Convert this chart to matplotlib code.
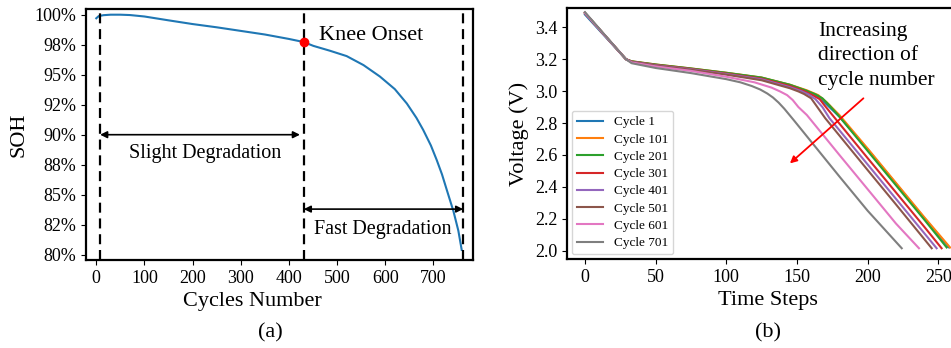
import matplotlib.pyplot as plt

plt.rcParams['font.family'] = ['Liberation Serif', 'DejaVu Serif']
plt.rcParams['mathtext.fontset'] = 'stix'

# panel (a): state of health over cycles
cycles = [0, 5, 15, 30, 50, 70, 100, 150, 200, 250, 300, 350, 400, 431, 451,
          485, 520, 555, 589, 620, 645, 665, 679, 695, 707, 718, 728, 742, 752, 759]
soh = [99.7, 99.88, 99.96, 100.0, 100.0, 99.97, 99.85, 99.53, 99.22, 98.95, 98.65,
       98.35, 97.98, 97.72, 97.4, 97.0, 96.55, 95.8, 94.85, 93.8, 92.6, 91.4,
       90.4, 89.1, 87.9, 86.7, 85.4, 83.6, 82.0, 80.4]
knee_cycle, knee_soh = 431, 97.72
start_cycle, end_cycle = 8, 762
soh_ticks = [80, 82.5, 85, 87.5, 90, 92.5, 95, 97.5, 100]

# panel (b): discharge voltage curves
t_c1 = [0, 29, 33, 50, 75, 100, 125, 145, 157, 164, 170, 180, 200, 220, 240, 257.6]
v_c1 = [3.48, 3.20, 3.185, 3.165, 3.14, 3.113, 3.083, 3.038, 3.0, 2.97, 2.925,
        2.84, 2.635, 2.42, 2.205, 2.02]
t_c101 = [0, 29, 33, 50, 75, 100, 125, 145, 157, 165, 171, 180, 200, 220, 240, 258.3]
v_c101 = [3.49, 3.20, 3.187, 3.167, 3.142, 3.115, 3.085, 3.04, 3.005, 2.975, 2.93,
          2.85, 2.64, 2.425, 2.21, 2.02]
t_c201 = [0, 29, 33, 50, 75, 100, 125, 145, 156, 163, 168, 173, 180, 200, 220, 240, 255.9]
v_c201 = [3.49, 3.20, 3.187, 3.167, 3.142, 3.115, 3.085, 3.04, 3.005, 2.98, 2.955,
          2.91, 2.84, 2.625, 2.41, 2.195, 2.02]
t_c301 = [0, 29, 33, 50, 75, 100, 125, 145, 155, 161, 166, 170, 176, 200, 220, 240, 252.3]
v_c301 = [3.49, 3.20, 3.185, 3.164, 3.139, 3.11, 3.078, 3.032, 3.0, 2.975, 2.95,
          2.905, 2.84, 2.58, 2.365, 2.15, 2.015]
t_c401 = [0, 29, 33, 50, 75, 100, 125, 145, 153, 158, 163, 168, 173, 200, 220, 248.8]
v_c401 = [3.49, 3.20, 3.184, 3.162, 3.137, 3.107, 3.074, 3.025, 3.0, 2.98, 2.95,
          2.9, 2.83, 2.54, 2.325, 2.015]
t_c501 = [0, 29, 33, 50, 75, 100, 125, 145, 151, 155, 160, 164, 170, 200, 220, 245.3]
v_c501 = [3.49, 3.20, 3.183, 3.16, 3.134, 3.103, 3.068, 3.018, 2.998, 2.982, 2.955,
          2.905, 2.83, 2.505, 2.29, 2.015]
t_c601 = [0, 29, 33, 50, 75, 100, 120, 132, 138, 143, 147, 151, 157, 180, 200, 220, 236.3]
v_c601 = [3.49, 3.20, 3.18, 3.155, 3.127, 3.09, 3.055, 3.022, 2.998, 2.975, 2.944,
          2.9, 2.85, 2.6, 2.385, 2.17, 2.015]
t_c701 = [0, 29, 33, 50, 75, 100, 110, 118, 124, 129, 133, 137, 141, 148, 164, 180, 200, 224.1]
v_c701 = [3.495, 3.20, 3.175, 3.145, 3.113, 3.075, 3.055, 3.032, 3.01, 2.985, 2.96,
          2.928, 2.89, 2.815, 2.64, 2.465, 2.25, 2.015]
curve_t = [t_c1, t_c101, t_c201, t_c301, t_c401, t_c501, t_c601, t_c701]
curve_v = [v_c1, v_c101, v_c201, v_c301, v_c401, v_c501, v_c601, v_c701]
curve_labels = ['Cycle 1', 'Cycle 101', 'Cycle 201', 'Cycle 301',
                'Cycle 401', 'Cycle 501', 'Cycle 601', 'Cycle 701']
colors = ['#1f77b4', '#ff7f0e', '#2ca02c', '#d62728',
          '#9467bd', '#8c564b', '#e377c2', '#7f7f7f']

fig = plt.figure(figsize=(9.51, 3.48), dpi=100)
ax1 = fig.add_axes([0.0901, 0.2529, 0.4073, 0.7204])
ax2 = fig.add_axes([0.5962, 0.2557, 0.4217, 0.7213])

# ---- (a)
ax1.plot(cycles, soh, color='#1f77b4', lw=1.5)
for xv in [start_cycle, knee_cycle, end_cycle]:
    ax1.axvline(xv, color='black', ls=(0, (4.5, 2.6)), lw=1.6)
ax1.plot(knee_cycle, knee_soh, 'o', color='red', ms=6, zorder=5)
ax1.annotate('', xy=(423, 90), xytext=(start_cycle, 90),
             arrowprops=dict(arrowstyle='<|-|>', color='black', lw=1.2,
                             mutation_scale=10, shrinkA=0, shrinkB=0))
ax1.annotate('', xy=(end_cycle, 83.8), xytext=(knee_cycle, 83.8),
             arrowprops=dict(arrowstyle='<|-|>', color='black', lw=1.2,
                             mutation_scale=10, shrinkA=0, shrinkB=0))
ax1.text(226, 88.45, 'Slight Degradation', ha='center', va='center', fontsize=14.5)
ax1.text(596, 82.1, 'Fast Degradation', ha='center', va='center', fontsize=14.5)
ax1.text(463, 98.3, 'Knee Onset', ha='left', va='center', fontsize=16)

ax1.set_xlim(-22, 782.5)
ax1.set_ylim(79.56, 100.45)
ax1.set_xticks(range(0, 800, 100))
ax1.set_yticks(soh_ticks)
ax1.set_yticklabels([f'{round(v)}%' for v in soh_ticks])
ax1.set_xlabel('Cycles Number', fontsize=16)
ax1.xaxis.label.set_x(0.43)
ax1.set_ylabel('SOH', fontsize=16)

# ---- (b)
for t, v, lab, c in zip(curve_t, curve_v, curve_labels, colors):
    ax2.plot(t, v, color=c, lw=1.5, label=lab)
ax2.annotate('', xy=(145, 2.547), xytext=(197, 2.955),
             arrowprops=dict(arrowstyle='-|>', color='red', lw=1.3,
                             mutation_scale=10, shrinkA=0, shrinkB=0))
ax2.text(165, 3.435, 'Increasing\ndirection of\ncycle number', ha='left', va='top',
         fontsize=15.5, linespacing=1.4)
ax2.set_xlim(-12.7, 271)
ax2.set_ylim(1.9475, 3.521)
ax2.set_xticks(range(0, 300, 50))
ax2.set_yticks([2.0, 2.2, 2.4, 2.6, 2.8, 3.0, 3.2, 3.4])
ax2.set_xlabel('Time Steps', fontsize=16)
ax2.set_ylabel('Voltage (V)', fontsize=16)
ax2.legend(loc='lower left', fontsize=9.5, handlelength=2.0, borderaxespad=0.35,
           labelspacing=0.38, handletextpad=0.8)

for ax in (ax1, ax2):
    for sp in ax.spines.values():
        sp.set_linewidth(1.6)
        sp.set_color('black')
    ax.tick_params(labelsize=13, length=3.5, width=0.8)

fig.text(0.284, 0.043, '(a)', ha='center', va='center', fontsize=16)
fig.text(0.8076, 0.043, '(b)', ha='center', va='center', fontsize=16)

fig.savefig('out.png', dpi=100)
